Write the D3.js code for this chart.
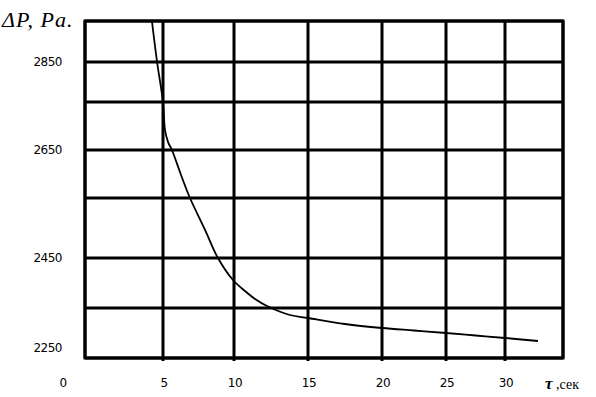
<!DOCTYPE html>
<html>
<head>
<meta charset="utf-8">
<script src="https://cdn.jsdelivr.net/npm/d3@7"></script>
<style>
  body { margin: 0; background: #fff; }
  svg { display: block; }
</style>
</head>
<body>
<svg id="chart"></svg>
<script>
// grid values (hand-drawn chart, grid columns are not evenly spaced)
let xGrid = [0, 5, 10, 15, 20, 25, 30, 35]
let yGrid = [2250, 2350, 2450, 2550, 2650, 2750, 2850, 2950]
let xTickLabels = [0, 5, 10, 15, 20, 25, 30]
let yTickLabels = [2250, 2450, 2650, 2850]

// curve: time (s) vs pressure drop (Pa)
let tau = [4.29, 4.62, 5.0, 5.14, 5.35, 5.63, 6.27, 6.9, 7.96, 8.87, 9.93, 10.74, 11.42, 12.23, 13.78, 15, 17.5, 20, 22.5, 25, 27.5, 30, 32.84]
let dP  = [2950, 2850, 2750, 2692, 2667, 2650, 2598, 2550, 2497, 2450, 2406, 2384, 2368, 2354, 2336, 2330, 2318, 2310, 2305, 2300, 2295, 2290, 2284]

let width = 596
let height = 397

let svg = d3.select('#chart').attr('width', width).attr('height', height)

// piecewise scales follow the hand-drawn grid
let x = d3.scaleLinear()
          .domain(xGrid)
          .range([85, 163, 234, 308, 382, 446, 505, 563])
let y = d3.scaleLinear()
          .domain(yGrid)
          .range([358, 308, 258, 198, 150, 102, 62, 21])

let plotLeft = x(xGrid[0]), plotRight = x(xGrid[xGrid.length - 1])
let plotTop = y(yGrid[yGrid.length - 1]), plotBottom = y(yGrid[0])

// grid lines
svg.append('g').selectAll('line')
   .data(xGrid)
   .enter()
   .append('line')
   .attr('x1', d => x(d)).attr('x2', d => x(d))
   .attr('y1', plotTop).attr('y2', d => (d > 0 && d < 35) ? plotBottom + 3 : plotBottom)
   .attr('stroke', '#000').attr('stroke-width', 3)

svg.append('g').selectAll('line')
   .data(yGrid)
   .enter()
   .append('line')
   .attr('x1', plotLeft).attr('x2', plotRight)
   .attr('y1', d => y(d)).attr('y2', d => y(d))
   .attr('stroke', '#000').attr('stroke-width', 3)

svg.append('rect')
   .attr('x', plotLeft).attr('y', plotTop)
   .attr('width', plotRight - plotLeft).attr('height', plotBottom - plotTop)
   .attr('fill', 'none').attr('stroke', '#000').attr('stroke-width', 3)

// curve
let points = tau.map((t, i) => [t, dP[i]])
let line = d3.line()
             .x(d => x(d[0]))
             .y(d => y(d[1]))
             .curve(d3.curveCatmullRom.alpha(0.5))

svg.append('path')
   .datum(points)
   .attr('d', line)
   .attr('fill', 'none')
   .attr('stroke', '#000')
   .attr('stroke-width', 1.8)

// tick labels
svg.append('g').selectAll('text')
   .data(yTickLabels)
   .enter()
   .append('text')
   .attr('x', 62)
   .attr('y', d => Math.min(y(d), plotBottom - 10))
   .attr('dy', '0.35em')
   .attr('text-anchor', 'end')
   .attr('font-family', 'DejaVu Sans')
   .attr('font-size', 12)
   .attr('letter-spacing', -0.5)
   .text(d => d)

svg.append('g').selectAll('text')
   .data(xTickLabels)
   .enter()
   .append('text')
   .attr('x', d => d === 0 ? x(d) - 22 : x(d) + 1)
   .attr('y', 383)
   .attr('dy', '0.35em')
   .attr('text-anchor', 'middle')
   .attr('font-family', 'DejaVu Sans')
   .attr('font-size', 12)
   .attr('letter-spacing', -0.5)
   .text(d => d)

// axis titles
svg.append('text')
   .attr('x', 2).attr('y', 27)
   .attr('font-family', 'Liberation Serif')
   .attr('font-style', 'italic')
   .attr('font-size', 22)
   .attr('letter-spacing', 1)
   .text('ΔP, Pa.')

let xt = svg.append('text')
   .attr('x', 545).attr('y', 389)
   .attr('font-family', 'Liberation Serif')
xt.append('tspan').attr('font-weight', 'bold').attr('font-style', 'italic').attr('font-size', 17).text('τ')
xt.append('tspan').attr('font-size', 14).text(' ,сек')
</script>
</body>
</html>
